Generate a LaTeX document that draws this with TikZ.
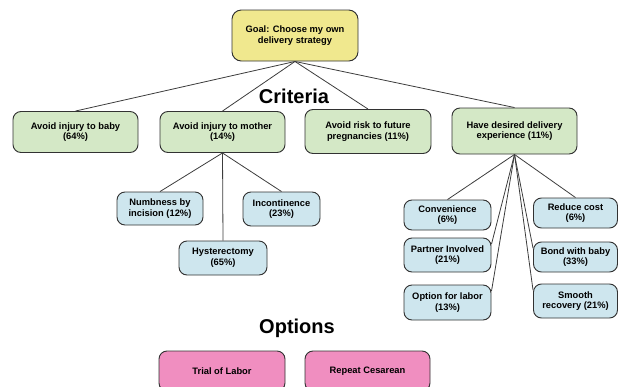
\documentclass[tikz,border=0pt]{standalone}
\usepackage{fontspec}
\setmainfont{Liberation Sans}
\definecolor{goalfill}{RGB}{240,232,142}
\definecolor{critfill}{RGB}{212,232,198}
\definecolor{subfill}{RGB}{206,230,238}
\definecolor{optfill}{RGB}{240,142,192}
\definecolor{boxline}{RGB}{50,50,50}
\definecolor{linkcol}{RGB}{60,60,60}
\begin{document}
\begin{tikzpicture}[x=0.75pt,y=-0.75pt,
  box/.style={draw=boxline, line width=0.7pt, rounded corners=6pt, align=center,
    font=\fontsize{7}{8}\selectfont\bfseries, inner sep=0pt},
  goalbox/.style={box, fill=goalfill, rounded corners=7pt},
  critbox/.style={box, fill=critfill},
  subbox/.style={box, fill=subfill},
  optbox/.style={box, fill=optfill},
  link/.style={draw=linkcol, line width=0.6pt},
  heading/.style={font=\fontsize{15}{18}\selectfont\bfseries, inner sep=0pt}]
\useasboundingbox (0,0) rectangle (618,387);

% goal
\node[goalbox, minimum width=94.5pt, minimum height=38.25pt] (goal) at (295,35.5)
  {Goal: Choose my own\\delivery strategy};

% criteria
\node[heading] (crit) at (294,96) {Criteria};
\node[critbox, minimum width=93.75pt, minimum height=30.75pt] (baby) at (75.5,132) {Avoid injury to baby\\(64\%)};
\node[critbox, minimum width=93.75pt, minimum height=30.75pt] (mother) at (222.5,132) {Avoid injury to mother\\(14\%)};
\node[critbox, minimum width=94.5pt, minimum height=33pt] (risk) at (368,131.5) {Avoid risk to future\\pregnancies (11\%)};
\node[critbox, minimum width=93.75pt, minimum height=34.5pt] (desired) at (514.5,131) {Have desired delivery\\experience (11\%)};

% sub-criteria of mother
\node[subbox, minimum width=64.5pt, minimum height=24.75pt] (numb) at (160,208.5) {Numbness by\\incision (12\%)};
\node[subbox, minimum width=57.75pt, minimum height=25.5pt] (incont) at (281.5,209) {Incontinence\\(23\%)};
\node[subbox, minimum width=66pt, minimum height=25.5pt] (hyst) at (223,258) {Hysterectomy\\(65\%)};

% sub-criteria of delivery experience
\node[subbox, minimum width=65.25pt, minimum height=22.5pt] (conv) at (447.5,215) {Convenience\\(6\%)};
\node[subbox, minimum width=65.25pt, minimum height=25.5pt] (partner) at (447.5,255) {Partner Involved\\(21\%)};
\node[subbox, minimum width=65.25pt, minimum height=26.25pt] (option) at (447.5,302.5) {Option for labor\\(13\%)};
\node[subbox, minimum width=63pt, minimum height=22.5pt] (cost) at (575.5,213) {Reduce cost\\(6\%)};
\node[subbox, minimum width=63pt, minimum height=22.5pt] (bond) at (575.5,257) {Bond with baby\\(33\%)};
\node[subbox, minimum width=63pt, minimum height=25.5pt] (smooth) at (575.5,301) {Smooth\\recovery (21\%)};

% options
\node[heading] (opts) at (297,328) {Options};
\begin{scope}
  \clip (0,0) rectangle (618,386);
  \node[optbox, minimum width=94.5pt, minimum height=30pt] (trial) at (222,371) {Trial of Labor};
  \node[optbox, minimum width=93.75pt, minimum height=30pt] (cesarean) at (367.5,371) {Repeat Cesarean};
\end{scope}

% connectors
\foreach \c in {baby,mother,risk,desired}
  \draw[link] (goal.south) -- (\c.north);
\foreach \c in {numb,hyst,incont}
  \draw[link] (mother.south) -- (\c.north);
\draw[link] (desired.south) -- (conv.north);
\draw[link] (desired.south) -- (cost.north);
\draw[link] (desired.south) -- ([yshift=-5pt]partner.north east);
\draw[link] (desired.south) -- ([yshift=-5pt]option.north east);
\draw[link] (desired.south) -- ([yshift=-5pt]bond.north west);
\draw[link] (desired.south) -- ([yshift=-5pt]smooth.north west);
\end{tikzpicture}
\end{document}
